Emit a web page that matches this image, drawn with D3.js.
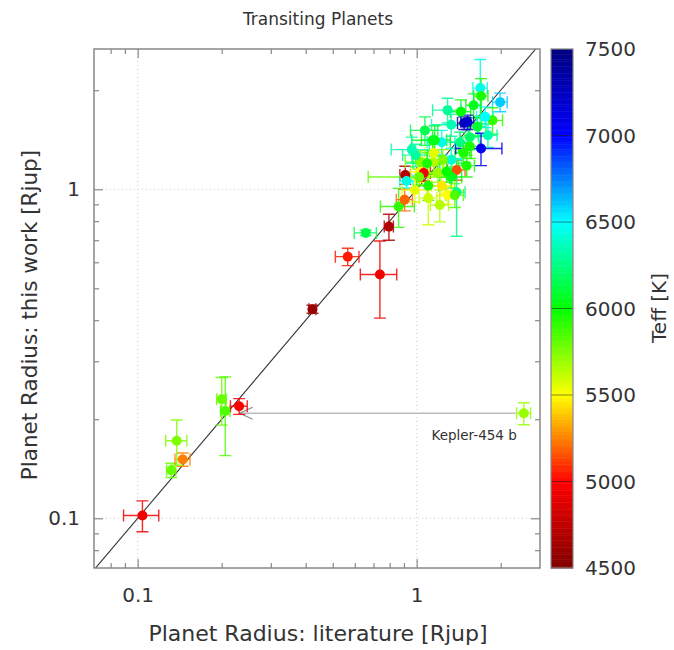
<!DOCTYPE html>
<html>
<head>
<meta charset="utf-8">
<script src="https://cdn.jsdelivr.net/npm/d3@7"></script>
<style>
  body { margin: 0; background: #fff; }
  svg { display: block; font-family: "DejaVu Sans", sans-serif; }
</style>
</head>
<body>
<svg id="chart" width="674" height="650"></svg>
<script>
// Planet radii (Jupiter radii): literature value vs. this work, with 1-sigma errors,
// and host-star effective temperature used for colouring.
const litRadius = [0.104, 0.132, 0.145, 0.138, 0.200, 0.206, 0.231, 2.42,
  0.423, 0.566, 0.657, 0.738, 0.795, 0.861, 0.905,
  0.91, 0.92, 1.03, 1.06, 1.02, 1.10, 1.10, 1.23, 1.39, 1.39,
  1.33, 1.51, 1.03, 1.15, 1.15, 1.23, 1.16, 1.33, 1.43, 1.55,
  1.69, 1.70, 1.99, 1.44, 1.33, 1.55, 1.87, 1.65, 1.76, 0.99,
  1.14, 1.19, 1.28, 1.24, 1.09, 1.47, 1.29,
  0.96, 1.07, 1.29, 1.60, 1.80, 1.37, 1.21, 0.985,
  1.70, 1.48, 1.52];
const litRadiusErr = [0.015, 0.005, 0.009, 0.012, 0.008, 0.008, 0.016, 0.14,
  0.012, 0.055, 0.06, 0.11, 0.03, 0.12, 0.06,
  0.04, 0.05, 0.08, 0.06, 0.35, 0.10, 0.08, 0.10, 0.10, 0.10,
  0.12, 0.10, 0.12, 0.10, 0.08, 0.14, 0.12, 0.12, 0.11, 0.14,
  0.10, 0.10, 0.12, 0.12, 0.20, 0.12, 0.16, 0.12, 0.12, 0.10,
  0.18, 0.08, 0.09, 0.10, 0.12, 0.10, 0.08,
  0.15, 0.12, 0.15, 0.10, 0.14, 0.10, 0.09, 0.10,
  0.32, 0.08, 0.08];
const workRadius = [0.102, 0.140, 0.151, 0.172, 0.230, 0.212, 0.219, 0.2085,
  0.432, 0.624, 0.737, 0.551, 0.770, 0.886, 0.93,
  1.105, 1.06, 1.13, 1.12, 1.09, 1.025, 0.94, 1.025, 1.145, 0.98,
  1.09, 1.18, 1.21, 1.21, 1.29, 1.39, 1.41, 1.23, 1.39, 1.35,
  2.03, 1.92, 1.84, 1.72, 1.57, 1.44, 1.62, 1.55, 1.66, 1.27,
  1.41, 1.12, 1.13, 1.23, 1.20, 1.29, 0.96,
  1.32, 1.51, 1.74, 1.80, 1.46, 0.96, 0.896, 0.995,
  1.33, 1.59, 1.60];
const workRadiusErr = [0.011, 0.007, 0.007, 0.027, 0.038, 0.057, 0.012, 0.016,
  0.012, 0.038, 0.014, 0.145, 0.07, 0.12, 0.07,
  0.07, 0.05, 0.08, 0.06, 0.06, 0.10, 0.16, 0.07, 0.08, 0.26,
  0.08, 0.09, 0.10, 0.09, 0.08, 0.12, 0.15, 0.10, 0.10, 0.11,
  0.45, 0.25, 0.12, 0.15, 0.12, 0.12, 0.15, 0.10, 0.12, 0.10,
  0.10, 0.07, 0.08, 0.09, 0.09, 0.09, 0.06,
  0.12, 0.15, 0.15, 0.15, 0.12, 0.08, 0.10, 0.08,
  0.15, 0.07, 0.08];
const teff = [4950, 5800, 5250, 5750, 5800, 5850, 5000, 5700,
  4600, 5050, 6150, 4950, 4700, 5900, 5200,
  4700, 6450, 5500, 4950, 5800, 5950, 5600, 5450, 5150, 6250,
  6050, 5950, 5750, 5650, 5550, 6450, 6000, 6400, 6250, 5950,
  6450, 5950, 6600, 6000, 6350, 6200, 5900, 6100, 6500, 6300,
  6050, 5700, 6000, 5750, 5950, 5950, 5500,
  6350, 6150, 6300, 6050, 6350, 5850, 5650, 5550,
  7050, 7300, 7200];

// Labelled planet and the literature radius its arrow points back to.
const labelName = "Kepler-454 b";
const labelIndex = 7;
const labelArrowTip = 0.232;

const majorTicks = [0.1, 1];
const minorTicks = [0.08, 0.09, 0.2, 0.3, 0.4, 0.5, 0.6, 0.7, 0.8, 0.9, 2];
const teffTicks = [4500, 5000, 5500, 6000, 6500, 7000, 7500];
const teffStops = ["#800000", "#ff0000", "#ffff00", "#00ff00", "#00ffff", "#0000ff", "#000080"];

const svg = d3.select("#chart");
const W = 674, H = 650;
const plot = { left: 94, right: 540, top: 49, bottom: 568 };

svg.append("rect").attr("width", W).attr("height", H).attr("fill", "#fff");

const x = d3.scaleLog().domain([0.06973, 2.766]).range([plot.left, plot.right]);
const y = d3.scaleLog().domain([0.07062, 2.669]).range([plot.bottom, plot.top]);
const color = d3.scaleLinear().domain(teffTicks).range(teffStops).clamp(true);

const textColor = "#333";
const frameColor = "#888";

// dotted grid at the decades
const grid = svg.append("g").attr("stroke", "#cfcfcf").attr("stroke-dasharray", "1,3");
grid.selectAll("line.gx").data(majorTicks).join("line")
  .attr("x1", d => x(d)).attr("x2", d => x(d))
  .attr("y1", plot.top).attr("y2", plot.bottom);
grid.selectAll("line.gy").data(majorTicks).join("line")
  .attr("y1", d => y(d)).attr("y2", d => y(d))
  .attr("x1", plot.left).attr("x2", plot.right);

// inward ticks on all four sides
function tickAxis(axis, values, size, transform, labels) {
  const g = svg.append("g").attr("transform", transform)
    .call(axis.tickValues(values).tickSize(-size)
      .tickFormat(labels ? d3.format("") : () => ""));
  g.select(".domain").remove();
  g.selectAll(".tick line").attr("stroke", frameColor).attr("stroke-width", 1.2);
  g.selectAll(".tick text").attr("fill", textColor).attr("font-size", 20)
    .attr("font-family", "DejaVu Sans, sans-serif");
  return g;
}
tickAxis(d3.axisBottom(x).tickPadding(20), majorTicks, 9, `translate(0,${plot.bottom})`, true);
tickAxis(d3.axisBottom(x), minorTicks, 5, `translate(0,${plot.bottom})`, false);
tickAxis(d3.axisTop(x), majorTicks, 9, `translate(0,${plot.top})`, false);
tickAxis(d3.axisTop(x), minorTicks, 5, `translate(0,${plot.top})`, false);
tickAxis(d3.axisLeft(y).tickPadding(14), majorTicks, 9, `translate(${plot.left},0)`, true);
tickAxis(d3.axisLeft(y), minorTicks, 5, `translate(${plot.left},0)`, false);
tickAxis(d3.axisRight(y), majorTicks, 9, `translate(${plot.right},0)`, false);
tickAxis(d3.axisRight(y), minorTicks, 5, `translate(${plot.right},0)`, false);

// one-to-one line
svg.append("clipPath").attr("id", "plotClip")
  .append("rect").attr("x", plot.left).attr("y", plot.top)
  .attr("width", plot.right - plot.left).attr("height", plot.bottom - plot.top);
const inner = svg.append("g").attr("clip-path", "url(#plotClip)");
inner.append("line")
  .attr("x1", x(0.05)).attr("y1", y(0.05)).attr("x2", x(3)).attr("y2", y(3))
  .attr("stroke", "#333").attr("stroke-width", 1.1);

// arrow from the labelled planet back to its corrected literature radius
const ly = y(workRadius[labelIndex]);
const tipX = x(labelArrowTip);
inner.append("line")
  .attr("x1", x(litRadius[labelIndex]) - 8).attr("y1", ly)
  .attr("x2", tipX).attr("y2", ly)
  .attr("stroke", "#bdbdbd").attr("stroke-width", 1.4);
inner.append("path")
  .attr("d", `M${tipX + 13},${ly - 6}L${tipX},${ly}L${tipX + 13},${ly + 6}`)
  .attr("fill", "none").attr("stroke", "#888").attr("stroke-width", 1.1);

// error bars
const pts = litRadius.map((v, i) => ({
  x: v, xe: litRadiusErr[i], y: workRadius[i], ye: workRadiusErr[i], t: teff[i]
}));
const cap = 6;
const eb = inner.append("g").attr("fill", "none").attr("stroke-width", 1.4);
pts.forEach(p => {
  const c = color(p.t);
  const cx = x(p.x), cy = y(p.y);
  const x0 = x(p.x - p.xe), x1 = x(p.x + p.xe);
  const y0 = y(p.y - p.ye), y1 = y(p.y + p.ye);
  eb.append("path").attr("stroke", c).attr("stroke-opacity", 0.85).attr("d",
    `M${x0},${cy}H${x1}` +
    `M${x0},${cy - cap}V${cy + cap}M${x1},${cy - cap}V${cy + cap}` +
    `M${cx},${y0}V${y1}` +
    `M${cx - cap},${y0}H${cx + cap}M${cx - cap},${y1}H${cx + cap}`);
});

// points
inner.append("g").selectAll("circle").data(pts).join("circle")
  .attr("cx", d => x(d.x)).attr("cy", d => y(d.y)).attr("r", 5)
  .attr("fill", d => color(d.t));

// frame
svg.append("rect").attr("x", plot.left).attr("y", plot.top)
  .attr("width", plot.right - plot.left).attr("height", plot.bottom - plot.top)
  .attr("fill", "none").attr("stroke", frameColor).attr("stroke-width", 1.5);

// label
svg.append("text")
  .attr("x", x(litRadius[labelIndex]) - 7).attr("y", ly + 27)
  .attr("text-anchor", "end").attr("font-size", 13.5).attr("fill", textColor)
  .text(labelName);

// titles
svg.append("text").attr("x", 318).attr("y", 25).attr("text-anchor", "middle")
  .attr("font-size", 17).attr("fill", textColor).text("Transiting Planets");
svg.append("text").attr("x", 318).attr("y", 641).attr("text-anchor", "middle")
  .attr("font-size", 22).attr("fill", textColor).text("Planet Radius: literature [Rjup]");
svg.append("text").attr("transform", "translate(37,315) rotate(-90)").attr("text-anchor", "middle")
  .attr("font-size", 21.5).attr("fill", textColor).text("Planet Radius: this work [Rjup]");

// colour bar
const cb = { x: 551, w: 22 };
const cy = d3.scaleLinear().domain([4500, 7500]).range([plot.bottom, plot.top]);
const steps = d3.range(4500, 7500, 10);
const cbg = svg.append("g");
cbg.selectAll("rect").data(steps).join("rect")
  .attr("x", cb.x).attr("width", cb.w)
  .attr("y", d => cy(d + 10)).attr("height", d => cy(d) - cy(d + 10) + 0.5)
  .attr("fill", d => color(d + 5));
cbg.selectAll("line").data(teffTicks.slice(1, -1)).join("line")
  .attr("x1", cb.x).attr("x2", cb.x + cb.w)
  .attr("y1", d => cy(d)).attr("y2", d => cy(d))
  .attr("stroke", "#222").attr("stroke-opacity", 0.55).attr("stroke-width", 1);
cbg.append("rect").attr("x", cb.x).attr("y", plot.top).attr("width", cb.w)
  .attr("height", plot.bottom - plot.top).attr("fill", "none")
  .attr("stroke", frameColor).attr("stroke-width", 1.2);
cbg.selectAll("text").data(teffTicks).join("text")
  .attr("x", 585).attr("y", d => cy(d)).attr("dy", "0.36em")
  .attr("font-size", 20).attr("fill", textColor).text(d => d);
svg.append("text").attr("transform", "translate(666,308) rotate(-90)").attr("text-anchor", "middle")
  .attr("font-size", 20).attr("fill", textColor).text("Teff [K]");
</script>
</body>
</html>
